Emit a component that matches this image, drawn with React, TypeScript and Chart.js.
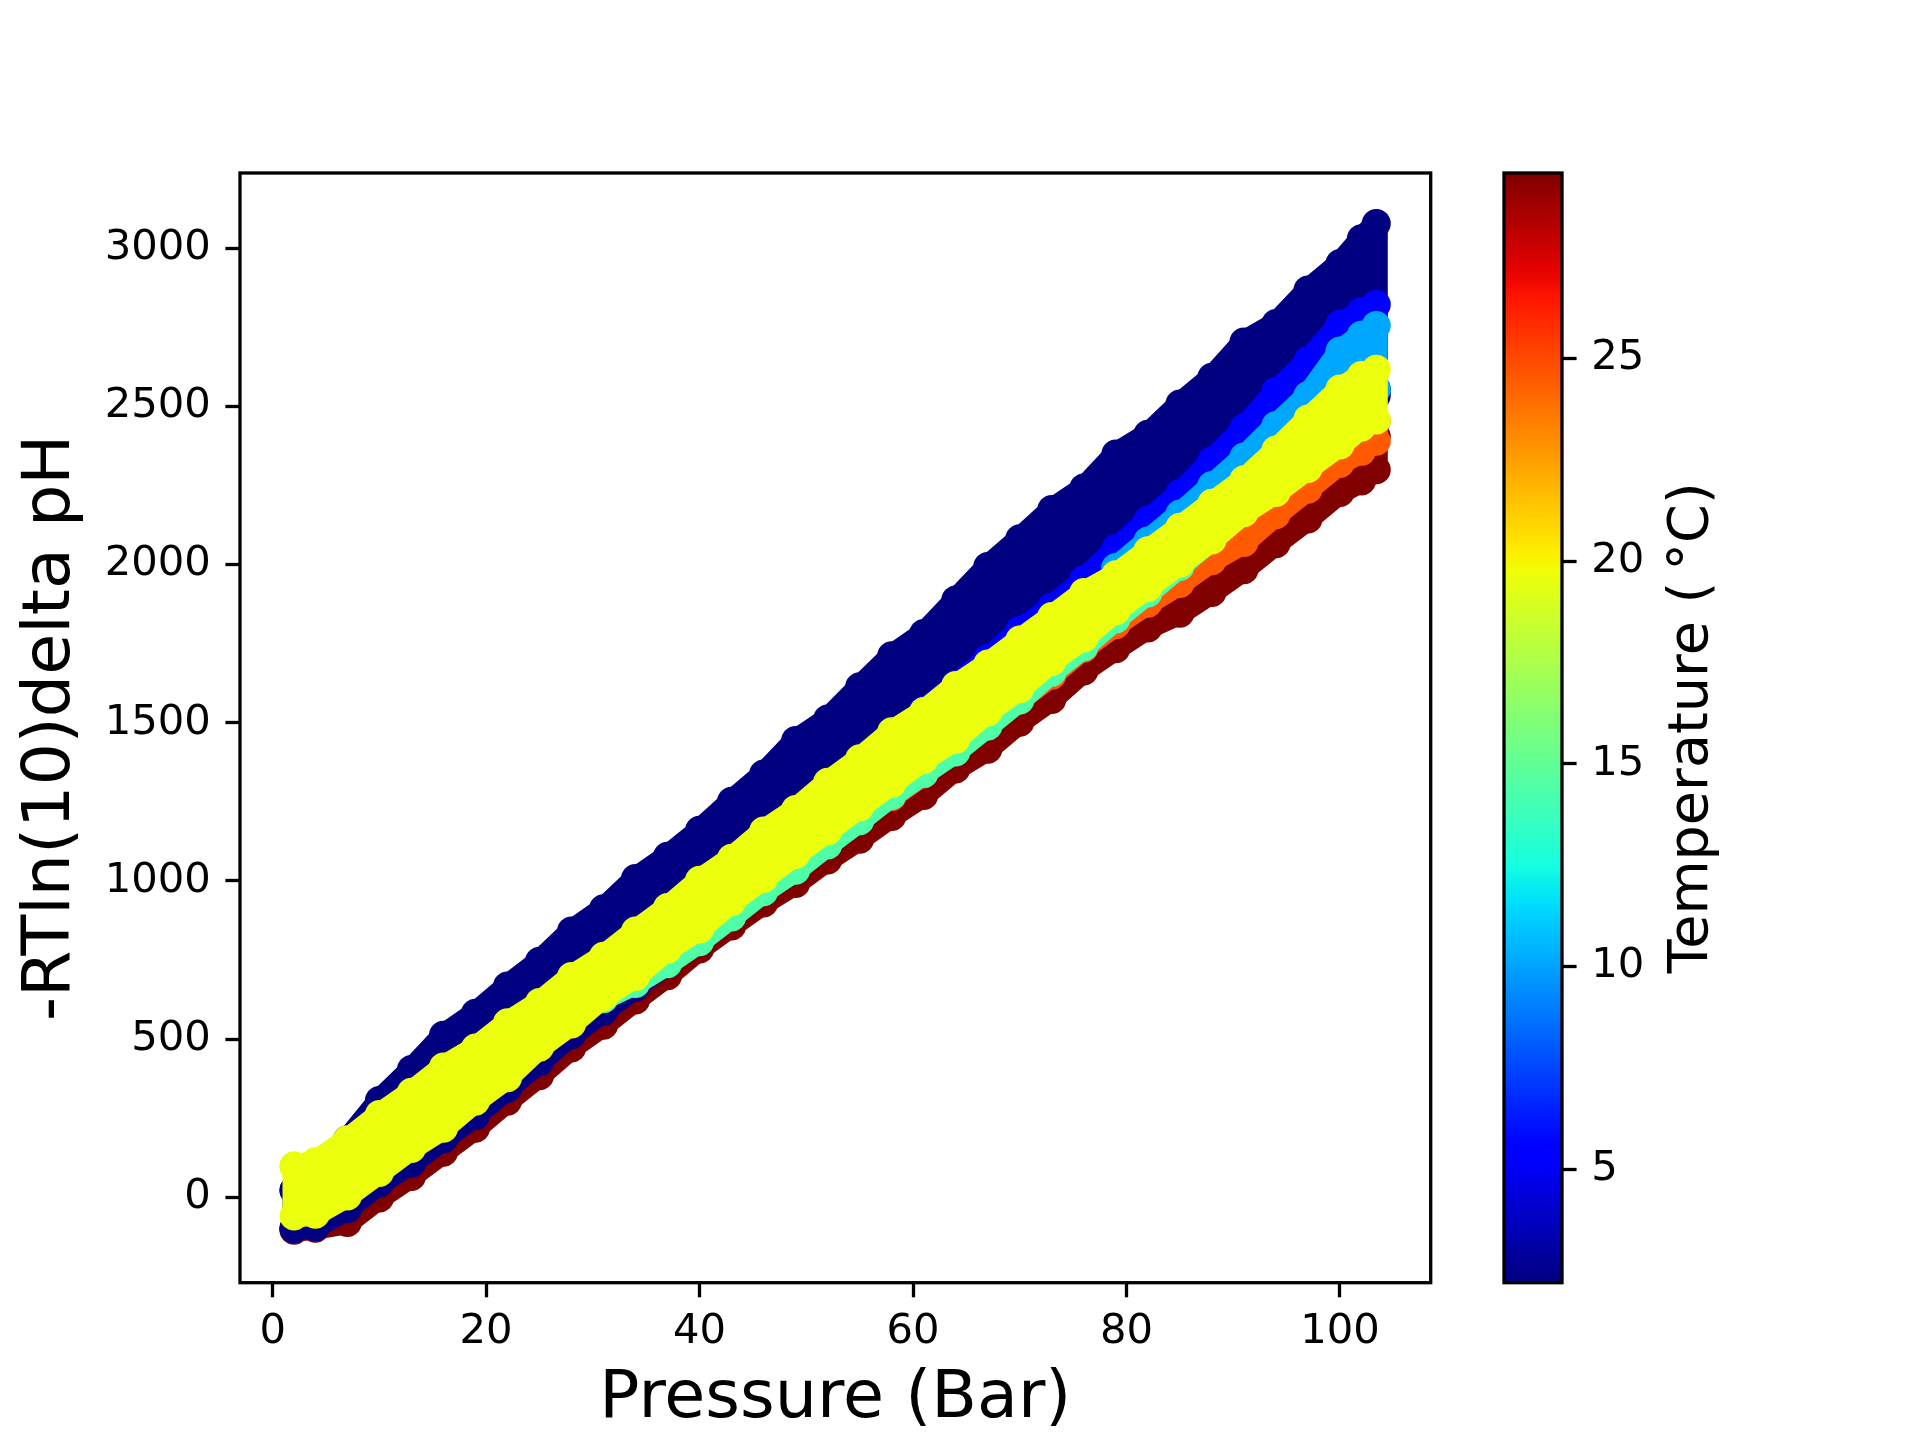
import React, { useEffect, useRef } from "react";
import { Chart, registerables } from "chart.js";

Chart.register(...registerables);

// ---------------- data ----------------
const PRESSURE = [2, 4, 7, 10, 13, 16, 19, 22, 25, 28, 31, 34, 37, 40, 43, 46, 49, 52, 55, 58, 61, 64, 67, 70, 73, 76, 79, 82, 85, 88, 91, 94, 97, 100, 102, 103.4];

// temperature of each run (°C)
const TEMPS = { navy: 2.2, blue: 5.3, lightblue: 10.1, seafoam: 14.4, yellow: 19.6, orange: 24.5, red: 29.57 };

// envelope of each run: upper / lower marker-centre traces of -RTln(10)delta pH
const NAVY_TOP = [22, 84, 182, 306, 404, 512, 582, 668, 746, 842, 912, 1008, 1078, 1160, 1252, 1338, 1444, 1512, 1614, 1712, 1782, 1888, 1994, 2082, 2174, 2242, 2350, 2412, 2508, 2592, 2704, 2762, 2868, 2952, 3030, 3078];
const NAVY_BOTTOM = [-100, -94, -36, 44, 108, 184, 258, 344, 428, 514, 588, 664, 738, 925, 1000, 1080, 1160, 1235, 1310, 1390, 1460, 1530, 1610, 1690, 1765, 1840, 1910, 1985, 2060, 2135, 2215, 2290, 2365, 2460, 2510, 2535];

const RED_TOP = [-98, -92, -70, 2, 78, 150, 232, 310, 398, 478, 556, 630, 708, 790, 880, 960, 1030, 1110, 1180, 1260, 1330, 1400, 1480, 1560, 1640, 1720, 1800, 1880, 1950, 2030, 2110, 2180, 2250, 2330, 2380, 2405];
const RED_BOTTOM = [-104, -98, -80, -2, 66, 142, 218, 304, 384, 472, 544, 624, 700, 785, 858, 930, 992, 1066, 1132, 1204, 1270, 1354, 1416, 1502, 1574, 1664, 1734, 1800, 1846, 1912, 1984, 2066, 2144, 2228, 2264, 2300];

const ORANGE_P = PRESSURE.slice(15);
const ORANGE_TOP = [1010, 1080, 1160, 1230, 1310, 1380, 1450, 1530, 1610, 1690, 1770, 1850, 1930, 2000, 2080, 2160, 2230, 2300, 2380, 2430, 2455];
const ORANGE_BOTTOM = [1000, 1050, 1128, 1198, 1266, 1338, 1416, 1490, 1572, 1650, 1736, 1810, 1878, 1940, 2012, 2070, 2158, 2238, 2320, 2358, 2390];

const SEAFOAM_P = PRESSURE.slice(10, 30);
const SEAFOAM_TOP = [660, 730, 810, 880, 960, 1040, 1110, 1190, 1260, 1340, 1410, 1480, 1560, 1640, 1720, 1800, 1880, 1960, 2030, 2110];
const SEAFOAM_BOTTOM = [628, 676, 738, 808, 886, 966, 1034, 1114, 1190, 1270, 1340, 1408, 1490, 1572, 1660, 1740, 1828, 1910, 1994, 2080];

const BLUE_P = PRESSURE.slice(20);
const BLUE_TOP = [1539, 1622, 1703, 1792, 1866, 1952, 2050, 2140, 2225, 2328, 2432, 2548, 2645, 2760, 2800, 2822];
const BLUE_BOTTOM = [1480, 1555, 1630, 1700, 1780, 1850, 1910, 1980, 2060, 2130, 2210, 2300, 2390, 2480, 2530, 2555];

const LIGHTBLUE_P = PRESSURE.slice(26);
const LIGHTBLUE_TOP = [1990, 2075, 2160, 2250, 2340, 2440, 2535, 2675, 2725, 2756];
const LIGHTBLUE_BOTTOM = [1910, 1980, 2060, 2130, 2210, 2300, 2390, 2480, 2530, 2555];

const YELLOW_TOP = [99, 112, 182, 262, 332, 412, 472, 552, 616, 698, 762, 842, 916, 1002, 1072, 1158, 1226, 1312, 1386, 1472, 1536, 1618, 1686, 1762, 1836, 1912, 1968, 2044, 2118, 2194, 2268, 2362, 2460, 2555, 2598, 2618];
const YELLOW_BOTTOM = [-59, -54, 4, 78, 154, 218, 304, 378, 474, 548, 634, 698, 784, 848, 934, 1008, 1084, 1158, 1234, 1308, 1384, 1448, 1534, 1608, 1694, 1768, 1854, 1928, 2004, 2078, 2164, 2228, 2304, 2378, 2434, 2457];

const X_TICKS = [0, 20, 40, 60, 80, 100];
const Y_TICKS = [0, 500, 1000, 1500, 2000, 2500, 3000];
const CBAR_TICKS = [5, 10, 15, 20, 25];
const X_LIMITS = [-3.06, 108.5];
const Y_LIMITS = [-270, 3238];
const T_LIMITS = [2.2, 29.57];

const X_LABEL = "Pressure (Bar)";
const Y_LABEL = "-RTln(10)delta pH";
const CBAR_LABEL = "Temperature (\u2009°C)";

// ---------------- styling helpers ----------------
const FONT = '"DejaVu Sans", sans-serif';

const JET_R = [[0, 0], [0.35, 0], [0.66, 1], [0.89, 1], [1, 0.5]];
const JET_G = [[0, 0], [0.125, 0], [0.375, 1], [0.64, 1], [0.91, 0], [1, 0]];
const JET_B = [[0, 0.5], [0.11, 1], [0.34, 1], [0.65, 0], [1, 0]];

function seg(pts: number[][], t: number) {
  for (let i = 0; i < pts.length - 1; i++) {
    const [x0, y0] = pts[i];
    const [x1, y1] = pts[i + 1];
    if (t <= x1) return y0 + ((t - x0) / (x1 - x0 || 1)) * (y1 - y0);
  }
  return pts[pts.length - 1][1];
}
function jet(t: number) {
  const u = Math.max(0, Math.min(1, t));
  const r = Math.round(255 * seg(JET_R, u));
  const g = Math.round(255 * seg(JET_G, u));
  const b = Math.round(255 * seg(JET_B, u));
  return `rgb(${r},${g},${b})`;
}
function tempColor(T: number) {
  return jet((T - T_LIMITS[0]) / (T_LIMITS[1] - T_LIMITS[0]));
}

function outline(p: number[], top: number[], bottom: number[]) {
  const pts = p.map((x, i) => ({ x, y: top[i] }));
  for (let i = p.length - 1; i >= 0; i--) pts.push({ x: p[i], y: bottom[i] });
  pts.push({ x: p[0], y: top[0] });
  return pts;
}

const BANDS = [
  { name: "20 °C", T: TEMPS.yellow, p: PRESSURE, top: YELLOW_TOP, bottom: YELLOW_BOTTOM, order: 0 },
  { name: "14 °C", T: TEMPS.seafoam, p: SEAFOAM_P, top: SEAFOAM_TOP, bottom: SEAFOAM_BOTTOM, order: 1 },
  { name: "10 °C", T: TEMPS.lightblue, p: LIGHTBLUE_P, top: LIGHTBLUE_TOP, bottom: LIGHTBLUE_BOTTOM, order: 2 },
  { name: "5 °C", T: TEMPS.blue, p: BLUE_P, top: BLUE_TOP, bottom: BLUE_BOTTOM, order: 3 },
  { name: "2 °C", T: TEMPS.navy, p: PRESSURE, top: NAVY_TOP, bottom: NAVY_BOTTOM, order: 4 },
  { name: "25 °C", T: TEMPS.orange, p: ORANGE_P, top: ORANGE_TOP, bottom: ORANGE_BOTTOM, order: 5 },
  { name: "30 °C", T: TEMPS.red, p: PRESSURE, top: RED_TOP, bottom: RED_BOTTOM, order: 6 },
];

const framePlugin = {
  id: "frame",
  afterDraw(chart: any) {
    const { ctx, chartArea: a } = chart;
    ctx.save();
    ctx.strokeStyle = "#000";
    ctx.lineWidth = 3.3;
    ctx.strokeRect(a.left, a.top, a.right - a.left, a.bottom - a.top);
    ctx.restore();
  },
};

const cbarTitlePlugin = {
  id: "cbarTitle",
  afterDraw(chart: any) {
    const { ctx, chartArea: a } = chart;
    ctx.save();
    ctx.translate(253, (a.top + a.bottom) / 2);
    ctx.rotate(-Math.PI / 2);
    ctx.font = `55.6px ${FONT}`;
    ctx.fillStyle = "#000";
    ctx.textAlign = "center";
    ctx.textBaseline = "middle";
    ctx.fillText(CBAR_LABEL, 0, 0);
    ctx.restore();
  },
};

const tickFont = { family: FONT, size: 41.7 };
const tickGrid = {
  display: true,
  drawOnChartArea: false,
  drawTicks: true,
  tickLength: 14.6,
  tickWidth: 3.3,
  tickColor: "#000",
};

export default function App() {
  const mainRef = useRef<HTMLCanvasElement>(null);
  const cbRef = useRef<HTMLCanvasElement>(null);

  useEffect(() => {
    const datasets = BANDS.map((b) => {
      const c = tempColor(b.T);
      return {
        label: b.name,
        data: outline(b.p, b.top, b.bottom),
        showLine: true,
        fill: "shape",
        backgroundColor: c,
        borderColor: c,
        borderWidth: 23,
        borderJoinStyle: "round",
        borderCapStyle: "round",
        pointRadius: 14.5,
        pointBorderWidth: 0,
        pointBackgroundColor: c,
        pointHoverRadius: 14.5,
        tension: 0,
        order: b.order,
      };
    });

    const main = new Chart(mainRef.current!, {
      type: "scatter",
      data: { datasets: datasets as any },
      options: {
        animation: false,
        responsive: false,
        maintainAspectRatio: false,
        devicePixelRatio: 1,
        layout: { padding: { left: 0, top: 173, right: 489.3, bottom: 0 } },
        plugins: { legend: { display: false }, tooltip: { enabled: false } },
        events: [],
        scales: {
          x: {
            type: "linear",
            min: X_LIMITS[0],
            max: X_LIMITS[1],
            afterBuildTicks: (s: any) => {
              s.ticks = X_TICKS.map((v) => ({ value: v }));
            },
            afterFit: (s: any) => {
              s.height = 157.3;
            },
            ticks: { font: tickFont, color: "#000", padding: 10, maxRotation: 0, autoSkip: false, callback: (v: any) => String(v) },
            grid: tickGrid,
            border: { display: false },
            title: { display: true, text: X_LABEL, color: "#000", font: { family: FONT, size: 66.7 }, padding: { top: 0, bottom: 0 } },
          },
          y: {
            type: "linear",
            min: Y_LIMITS[0],
            max: Y_LIMITS[1],
            afterBuildTicks: (s: any) => {
              s.ticks = Y_TICKS.map((v) => ({ value: v }));
            },
            afterFit: (s: any) => {
              s.width = 240;
            },
            ticks: { font: tickFont, color: "#000", padding: 14.6, autoSkip: false, callback: (v: any) => String(v) },
            grid: tickGrid,
            border: { display: false },
            title: { display: true, text: Y_LABEL, color: "#000", font: { family: FONT, size: 66.7 }, padding: { top: 12, bottom: 0 } },
          },
        },
      } as any,
      plugins: [framePlugin],
    });

    const cbar = new Chart(cbRef.current!, {
      type: "bar",
      data: {
        labels: [""],
        datasets: [
          {
            data: [[T_LIMITS[0], T_LIMITS[1]]] as any,
            backgroundColor: (ctx: any) => {
              const ch = ctx.chart;
              const a = ch.chartArea;
              if (!a) return tempColor(T_LIMITS[0]);
              const g = ch.ctx.createLinearGradient(0, a.bottom, 0, a.top);
              for (let i = 0; i <= 64; i++) g.addColorStop(i / 64, jet(i / 64));
              return g;
            },
            borderWidth: 0,
            barPercentage: 1,
            categoryPercentage: 1,
          },
        ],
      },
      options: {
        animation: false,
        responsive: false,
        maintainAspectRatio: false,
        devicePixelRatio: 1,
        layout: { padding: { left: 64, top: 173, right: 0, bottom: 157.3 } },
        plugins: { legend: { display: false }, tooltip: { enabled: false } },
        events: [],
        scales: {
          x: { display: false },
          y: {
            type: "linear",
            position: "right",
            min: T_LIMITS[0],
            max: T_LIMITS[1],
            afterBuildTicks: (s: any) => {
              s.ticks = CBAR_TICKS.map((v) => ({ value: v }));
            },
            afterFit: (s: any) => {
              s.width = 358;
            },
            ticks: { font: tickFont, color: "#000", padding: 14.6, autoSkip: false, callback: (v: any) => String(v) },
            grid: tickGrid,
            border: { display: false },
          },
        },
      } as any,
      plugins: [framePlugin, cbarTitlePlugin],
    });

    return () => {
      main.destroy();
      cbar.destroy();
    };
  }, []);

  return (
    <div style={{ position: "fixed", left: 0, top: 0, width: 1920, height: 1440, background: "#fff" }}>
      <canvas ref={mainRef} width={1920} height={1440} style={{ position: "absolute", left: 0, top: 0, width: 1920, height: 1440 }} />
      <canvas ref={cbRef} width={480} height={1440} style={{ position: "absolute", left: 1440, top: 0, width: 480, height: 1440 }} />
    </div>
  );
}
